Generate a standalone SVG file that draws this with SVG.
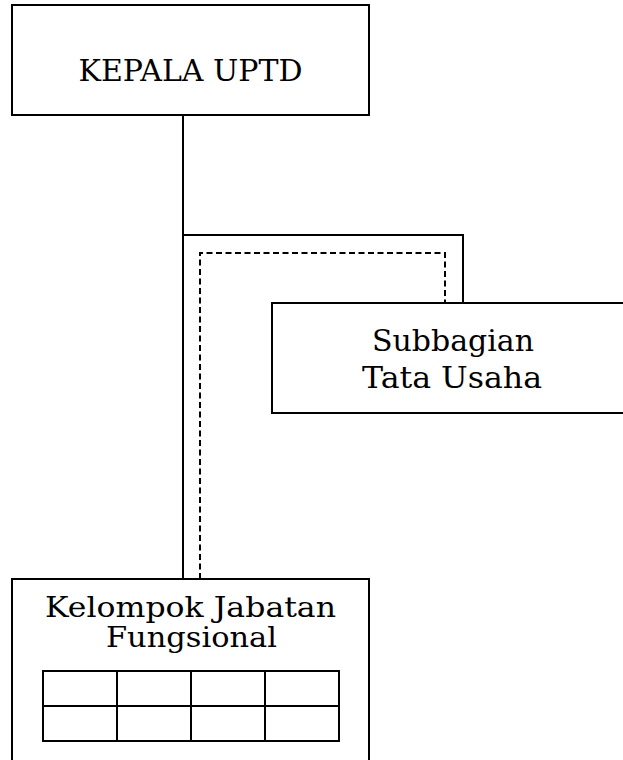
<svg xmlns="http://www.w3.org/2000/svg" width="623" height="760" viewBox="0 0 623 760">
<style>
.box{fill:#fff;stroke:#000;stroke-width:2}
.ln{fill:none;stroke:#000;stroke-width:2}
.dash{fill:none;stroke:#000;stroke-width:2;stroke-dasharray:6 3.5}
.t{font-family:"DejaVu Serif","Liberation Serif",serif;fill:#000;text-anchor:middle}
</style>
<rect width="623" height="760" fill="#fff"/>
<g id="connectors">
<polyline class="ln" points="183,115 183,579"/>
<polyline class="ln" points="183,235 463,235 463,303"/>
<polyline class="dash" points="200,579 200,253 445,253 445,303"/>
</g>
<g id="kepala">
<rect class="box" x="12" y="5" width="357" height="110"/>
<text class="t" x="190.5" y="81" font-size="29" textLength="224" lengthAdjust="spacingAndGlyphs">KEPALA UPTD</text>
</g>
<g id="subbagian">
<rect class="box" x="272" y="303" width="380" height="110"/>
<text class="t" x="453" y="351" font-size="30" textLength="162" lengthAdjust="spacingAndGlyphs">Subbagian</text>
<text class="t" x="452" y="388" font-size="30" textLength="180" lengthAdjust="spacingAndGlyphs">Tata Usaha</text>
</g>
<g id="kelompok">
<rect class="box" x="12" y="579" width="357" height="200"/>
<text class="t" x="190.5" y="617" font-size="27" textLength="291" lengthAdjust="spacingAndGlyphs">Kelompok Jabatan</text>
<text class="t" x="191.5" y="647" font-size="27" textLength="171" lengthAdjust="spacingAndGlyphs">Fungsional</text>
<rect x="43" y="671" width="296" height="70" fill="none" stroke="#000" stroke-width="2"/>
<path d="M43 706H339M117 671V741M191 671V741M265 671V741" fill="none" stroke="#000" stroke-width="2"/>
</g>
</svg>
